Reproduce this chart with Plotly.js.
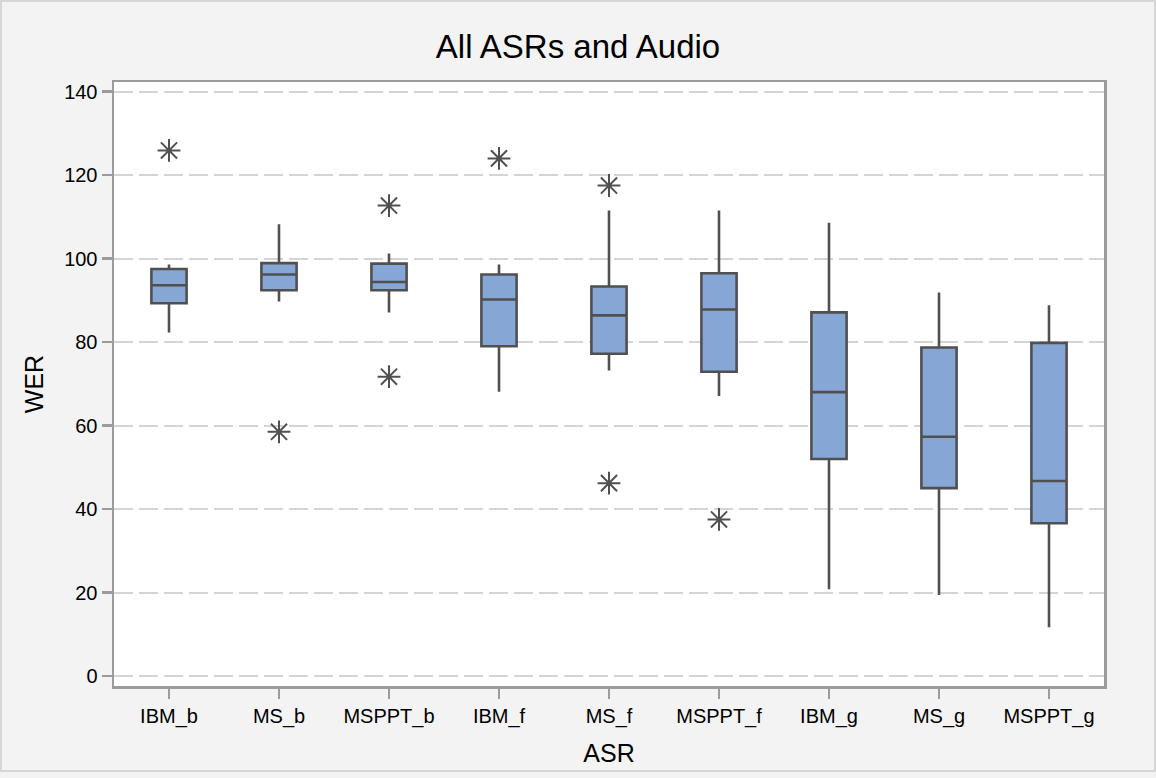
<!DOCTYPE html>
<html>
<head>
<meta charset="utf-8">
<script src="https://cdn.plot.ly/plotly-3.0.1.min.js"></script>
<style>
    html, body { margin: 0; padding: 0; background: #ffffff; }
    #wrap { position: relative; width: 1156px; height: 778px; }
    #chart { position: absolute; left: 0; top: 0; width: 1156px; height: 778px; }
    #frame {
        position: absolute; left: 0; top: 0; width: 1156px; height: 772px;
        box-sizing: border-box; border: 2px solid #d6d6d6; pointer-events: none;
    }
</style>
</head>
<body>
<div id="wrap">
    <div id="chart"></div>
    <div id="frame"></div>
</div>
<script>
// categories on the x axis
const categories = ['IBM_b', 'MS_b', 'MSPPT_b', 'IBM_f', 'MS_f', 'MSPPT_f', 'IBM_g', 'MS_g', 'MSPPT_g'];

// box summary values (WER)
const lowerWhisker = [82.3, 89.7, 87.1, 68.1, 73.2, 67.1, 20.8, 19.4, 11.7];
const quartile1 = [89.3, 92.4, 92.4, 79.0, 77.2, 72.9, 52.0, 45.0, 36.6];
const medians = [93.6, 96.2, 94.4, 90.2, 86.4, 87.8, 68.0, 57.3, 46.7];
const quartile3 = [97.5, 98.9, 98.8, 96.2, 93.3, 96.5, 87.1, 78.7, 79.8];
const upperWhisker = [98.6, 108.2, 101.2, 98.6, 111.5, 111.5, 108.6, 91.9, 88.8];

// outliers drawn as asterisks
const outlierCategories = ['IBM_b', 'MS_b', 'MSPPT_b', 'MSPPT_b', 'IBM_f', 'MS_f', 'MS_f', 'MSPPT_f'];
const outlierValues = [125.9, 58.5, 112.7, 71.7, 124.0, 117.5, 46.2, 37.5];

const yTicks = [0, 20, 40, 60, 80, 100, 120, 140];

(function () {
    const ink = '#505050';
    const axisGray = '#9b9b9b';
    const fontFamily = '"Liberation Sans", Arial, Helvetica, sans-serif';

    const boxes = {
        type: 'box',
        x: categories,
        q1: quartile1,
        median: medians,
        q3: quartile3,
        lowerfence: lowerWhisker,
        upperfence: upperWhisker,
        width: 0.32,
        whiskerwidth: 0,
        boxpoints: false,
        fillcolor: '#86a6d5',
        line: {color: ink, width: 2.6},
        hoverinfo: 'skip',
        showlegend: false,
    };

    const outliers = {
        type: 'scatter',
        mode: 'markers',
        x: outlierCategories,
        y: outlierValues,
        marker: {
            symbol: 'asterisk-open',
            size: 19,
            color: ink,
            line: {color: ink, width: 2},
        },
        hoverinfo: 'skip',
        showlegend: false,
    };

    const layout = {
        width: 1156,
        height: 778,
        margin: {l: 114, r: 52, t: 82, b: 92},
        paper_bgcolor: '#f3f3f3',
        plot_bgcolor: '#ffffff',
        font: {family: fontFamily, size: 20, color: '#000000'},
        title: {
            text: 'All ASRs and Audio',
            font: {size: 33, color: '#000000'},
            x: 0.5,
            xref: 'container',
            y: 1 - 46 / 778,
            yref: 'container',
            yanchor: 'middle',
        },
        xaxis: {
            type: 'category',
            categoryorder: 'array',
            categoryarray: categories,
            range: [-0.5, categories.length - 0.5],
            showgrid: false,
            zeroline: false,
            showline: true,
            mirror: true,
            linecolor: axisGray,
            linewidth: 2.5,
            ticks: 'outside',
            ticklen: 10,
            tickwidth: 2.5,
            tickcolor: axisGray,
            tickfont: {size: 20},
            title: {text: 'ASR', font: {size: 25}, standoff: 18},
        },
        yaxis: {
            range: [-2.4, 142.3],
            tickvals: yTicks,
            ticktext: yTicks.map(String),
            showgrid: true,
            gridcolor: '#d4d4d4',
            gridwidth: 2,
            griddash: '19px,6px',
            zeroline: false,
            showline: true,
            mirror: true,
            linecolor: axisGray,
            linewidth: 2.5,
            ticks: 'outside',
            ticklen: 10,
            tickwidth: 2.5,
            tickcolor: axisGray,
            tickfont: {size: 20},
            title: {text: 'WER', font: {size: 25}, standoff: 14},
        },
        showlegend: false,
    };

    Plotly.newPlot('chart', [boxes, outliers], layout, {displayModeBar: false, staticPlot: true});
})();
</script>
</body>
</html>
